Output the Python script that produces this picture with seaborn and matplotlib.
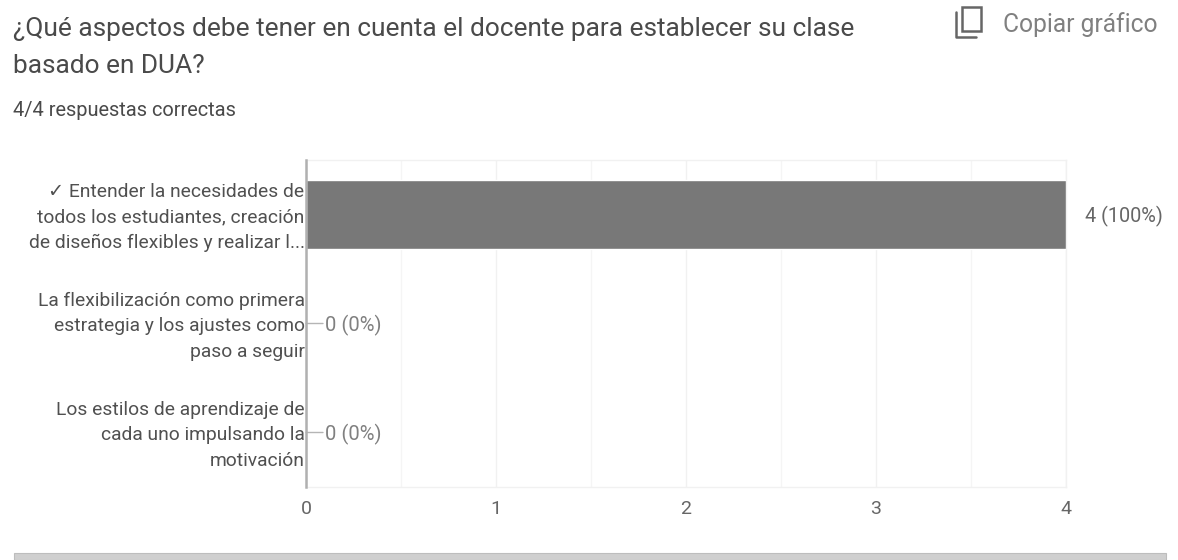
import matplotlib
matplotlib.use("Agg")
import matplotlib.pyplot as plt
from matplotlib.patches import Rectangle
from matplotlib.lines import Line2D
from matplotlib.transforms import Affine2D
import seaborn as sns
import pandas as pd

# data
categories = [
    "\u2713 Entender la necesidades de\ntodos los estudiantes, creación\nde diseños flexibles y realizar l...",
    "La flexibilización como primera\nestrategia y los ajustes como\npaso a seguir",
    "Los estilos de aprendizaje de\ncada uno impulsando la\nmotivación",
]
counts = [4, 0, 0]
value_labels = ["4 (100%)", "0 (0%)", "0 (0%)"]
x_ticks = [0, 1, 2, 3, 4]

W, H = 1178, 560
sns.set_theme(style="white")
plt.rcParams["font.family"] = ["Roboto", "DejaVu Sans"]

df = pd.DataFrame({"answer": categories, "count": counts})

fig = plt.figure(figsize=(W / 100, H / 100), dpi=100)
ax = fig.add_axes([306 / W, 1 - 487 / H, 760 / W, 327 / H])

sns.barplot(data=df, y="answer", x="count", color="#787878", saturation=1, width=0.625, ax=ax, zorder=3)
ax.set_xlim(0, 4)
ax.set_ylim(2.5, -0.5)
ax.set_xlabel("")
ax.set_ylabel("")

# light grid
ax.set_xticks(x_ticks)
ax.set_xticks([0.5, 1.5, 2.5, 3.5], minor=True)
ax.grid(axis="x", which="major", color="#f1f1f1", lw=1, zorder=0)
ax.grid(axis="x", which="minor", color="#f5f5f5", lw=1, zorder=0)
ax.tick_params(axis="x", which="both", length=0, pad=9, labelsize=14, labelcolor="#666666")
ax.tick_params(axis="y", length=0, pad=1)
for lab in ax.get_yticklabels():
    lab.set_fontsize(13.9)
    lab.set_color("#505050")
    lab.set_linespacing(1.56)
    # labels sit a little higher than the tick centre
    lab.set_transform(lab.get_transform() + Affine2D().translate(0, 3))

for s in ["top", "right", "bottom"]:
    ax.spines[s].set_color("#f1f1f1")
    ax.spines[s].set_linewidth(1)
ax.spines["left"].set_color("#b0b0b0")
ax.spines["left"].set_linewidth(1.8)
ax.spines["left"].set_zorder(5)

# value annotations
for i, (v, txt) in enumerate(zip(counts, value_labels)):
    if v == 0:
        ax.annotate("", xy=(0, i), xytext=(17, 0), textcoords="offset pixels",
                    arrowprops=dict(arrowstyle="-", color="#b5b5b5", lw=1, shrinkA=0, shrinkB=0))
        ax.annotate(txt, xy=(0, i), xytext=(19, -2), textcoords="offset pixels",
                    va="center", ha="left", fontsize=14.6, color="#808080")
    else:
        ax.annotate(txt, xy=(v, i), xytext=(19, -2), textcoords="offset pixels",
                    va="center", ha="left", fontsize=14.3, color="#666666", annotation_clip=False)

# header text
fig.text(13 / W, 1 - 29 / H, "¿Qué aspectos debe tener en cuenta el docente para establecer su clase",
         fontsize=18.9, color="#4a4a4a", va="center")
fig.text(13 / W, 1 - 66 / H, "basado en DUA?", fontsize=18.9, color="#4a4a4a", va="center")
fig.text(13 / W, 1 - 110 / H, "4/4 respuestas correctas", fontsize=14.4, color="#4a4a4a", va="center")
fig.text(1003 / W, 1 - 25 / H, "Copiar gráfico", fontsize=17.7, color="#808080", va="center")

# copy icon
fig.add_artist(Rectangle((962 / W, 1 - 31 / H), 19 / W, 24 / H, transform=fig.transFigure,
                         fill=False, ec="#666666", lw=1.8))
fig.add_artist(Line2D([956 / W, 956 / W, 976 / W], [1 - 12 / H, 1 - 37 / H, 1 - 37 / H],
                      transform=fig.transFigure, color="#666666", lw=1.8))

# grey strip at the bottom
fig.add_artist(Rectangle((14 / W, 0), 1152 / W, 7 / H, transform=fig.transFigure,
                         fc="#cfcfcf", ec="#bdbdbd", lw=0.8))

fig.savefig("out.png", dpi=100)
